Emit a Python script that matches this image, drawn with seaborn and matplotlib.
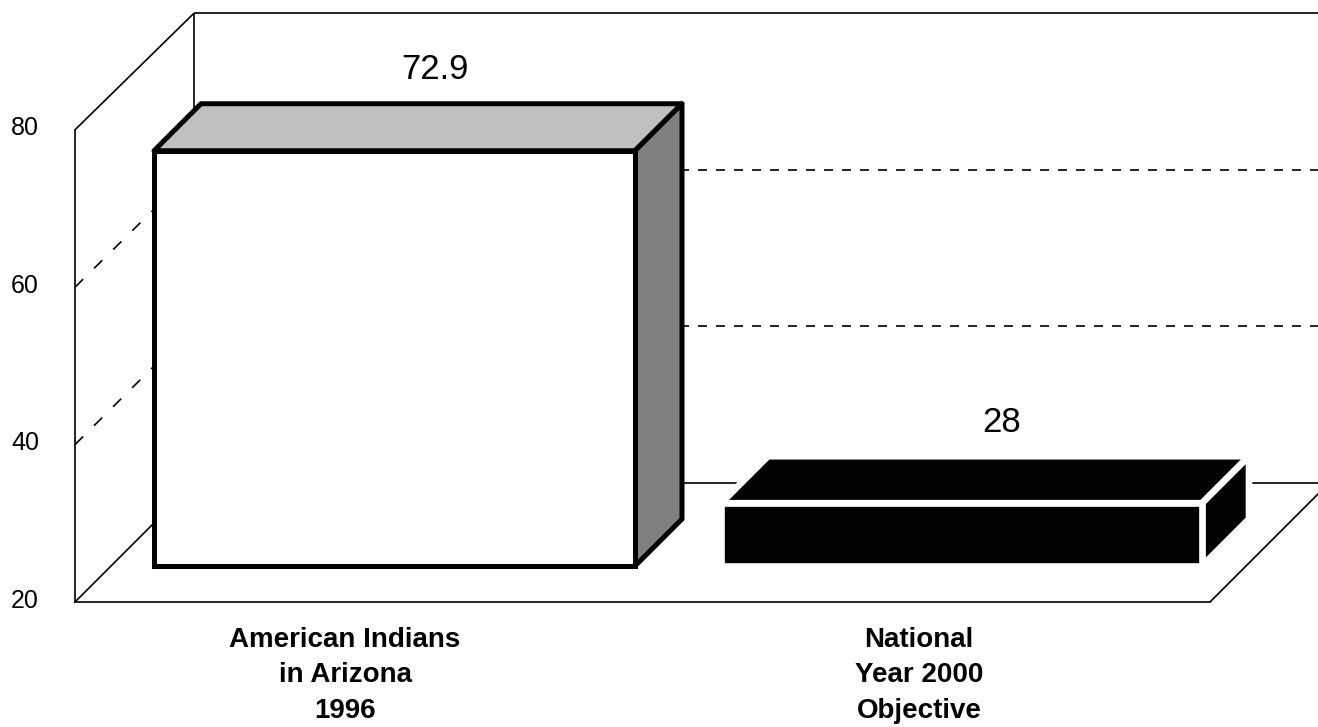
import matplotlib
matplotlib.use("Agg")
import matplotlib.pyplot as plt
from matplotlib.patches import Polygon, Rectangle
from matplotlib.transforms import ScaledTranslation
import seaborn as sns

categories = ["American Indians\nin Arizona\n1996", "National\nYear 2000\nObjective"]
values = [72.9, 28]
value_labels = ["72.9", "28"]
y_ticks = [20, 40, 60, 80]
y_tick_labels = ["20", "40", "60", "80"]
face_colors = ["#FFFFFF", "#000000"]
edge_colors = ["#000000", "#FFFFFF"]
edge_widths = [3.6, 4.8]
top_colors = ["#C0C0C0", "#000000"]
side_colors = ["#808080", "#000000"]

W, H = 1318, 727
sns.set_theme(style="white")
plt.rcParams["font.family"] = ["Liberation Sans"]
plt.rcParams["text.color"] = "black"

fig = plt.figure(figsize=(W / 100, H / 100), dpi=100, facecolor="white")
LW = 1.2        # pt, frame lines


def rect(l, t, r, b):
    return [l / W, 1 - b / H, (r - l) / W, (b - t) / H]


# ---- wall and floor behind the bars, laid out in figure pixels
ax_px = fig.add_axes([0, 0, 1, 1], zorder=0)
ax_px.set_xlim(0, W)
ax_px.set_ylim(H, 0)
ax_px.axis("off")
FRONT_Y0, BACK_Y0, UNIT_FRONT, UNIT_BACK = 602, 483, 7.87, 7.83
FRONT_X, BACK_X, RIGHT_X = 75, 194, 1210


def front_y(v):
    return FRONT_Y0 - (v - y_ticks[0]) * UNIT_FRONT


def back_y(v):
    return BACK_Y0 - (v - y_ticks[0]) * UNIT_BACK


line = dict(color="black", lw=LW, solid_capstyle="butt")
ax_px.plot([BACK_X, BACK_X], [back_y(20), back_y(80)], **line)
ax_px.plot([BACK_X, W], [back_y(80), back_y(80)], **line)
ax_px.plot([BACK_X, W], [back_y(20), back_y(20)], **line)
ax_px.plot([FRONT_X, BACK_X], [front_y(80), back_y(80)], **line)
ax_px.plot([FRONT_X, BACK_X], [front_y(20), back_y(20)], **line)
ax_px.plot([RIGHT_X, RIGHT_X + 119], [FRONT_Y0, BACK_Y0], **line)
for v in y_ticks[1:3]:
    ax_px.plot([BACK_X, W], [back_y(v), back_y(v)], color="black", lw=LW,
               dashes=(5.4, 5.4), dash_capstyle="butt")
    ax_px.plot([FRONT_X, BACK_X], [front_y(v), back_y(v)], color="black", lw=LW,
               dashes=(6.9, 9.2), dash_capstyle="butt")

# ---- front plane: value axis and category labels
ax_front = fig.add_axes(rect(FRONT_X, front_y(80), RIGHT_X, front_y(20)), zorder=1)
ax_front.patch.set_alpha(0)
X0, X1 = 345, 919
ax_front.set_xlim((FRONT_X - X0) / (X1 - X0), (RIGHT_X - X0) / (X1 - X0))
ax_front.set_ylim(y_ticks[0], y_ticks[-1])
ax_front.set_yticks(y_ticks, y_tick_labels, fontsize=18)
ax_front.set_xticks([0, 1], categories, fontsize=20, fontweight="bold", linespacing=1.47)
ax_front.tick_params(axis="y", length=0, pad=26, labelcolor="black")
ax_front.tick_params(axis="x", length=0, pad=18, labelcolor="black")
for lab in ax_front.get_yticklabels():
    lab.set_transform(lab.get_transform() + ScaledTranslation(0, 0.04, fig.dpi_scale_trans))
sns.despine(ax=ax_front, top=True, right=True)
for s in ("left", "bottom"):
    ax_front.spines[s].set_color("black")
    ax_front.spines[s].set_linewidth(LW)

# ---- bars, in their own plane
BAR_BASE_PX, BAR_UNIT, CAT0, CAT_STEP, DEPTH = 566, 7.85, 394.5, 567, 47
ax = fig.add_axes([0, 0, 1, 1], zorder=2)
ax.patch.set_alpha(0)
sns.barplot(x=categories, y=values, hue=categories, palette=face_colors, saturation=1,
            width=481 / CAT_STEP, legend=False, ax=ax, order=categories, hue_order=categories)
ax.set_xlim((0 - CAT0) / CAT_STEP, (W - CAT0) / CAT_STEP)
ax.set_ylim(y_ticks[0] - (H - BAR_BASE_PX) / BAR_UNIT, y_ticks[0] + BAR_BASE_PX / BAR_UNIT)
ax.axis("off")

dx, dy = DEPTH / CAT_STEP, DEPTH / BAR_UNIT
bars = sorted([p for p in ax.patches if isinstance(p, Rectangle) and p.get_height() > 0],
              key=lambda p: p.get_x())
for i, patch in enumerate(bars):
    l, w = patch.get_x(), patch.get_width()
    r, base, top = l + w, y_ticks[0], values[i]
    patch.set_y(base)
    patch.set_height(top - base)
    patch.set(edgecolor=edge_colors[i], linewidth=edge_widths[i], zorder=4, joinstyle="miter")
    ax.add_patch(Polygon([(l, top), (r, top), (r + dx, top + dy), (l + dx, top + dy)],
                         closed=True, facecolor=top_colors[i], edgecolor=edge_colors[i],
                         linewidth=edge_widths[i], zorder=3, joinstyle="round"))
    ax.add_patch(Polygon([(r, base), (r + dx, base + dy), (r + dx, top + dy), (r, top)],
                         closed=True, facecolor=side_colors[i], edgecolor=edge_colors[i],
                         linewidth=edge_widths[i], zorder=3, joinstyle="round"))
    ax.annotate(value_labels[i], xy=(i, top), xytext=(40 * 0.72, 81 * 0.72),
                textcoords="offset points", ha="center", va="center",
                fontsize=25, color="black")

fig.savefig("out.png", dpi=100, facecolor="white")
